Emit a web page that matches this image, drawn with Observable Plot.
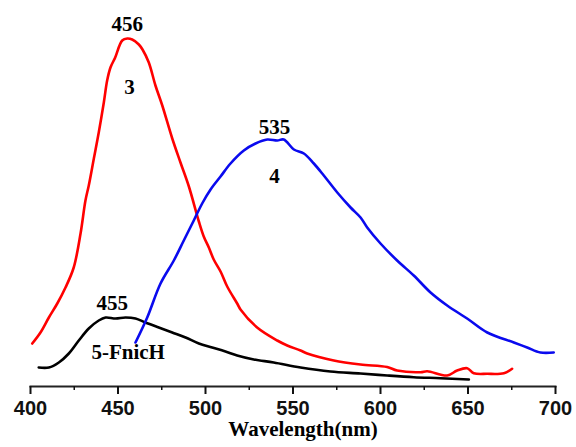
<!DOCTYPE html>
<html>
<head>
<meta charset="utf-8">
<script src="https://cdn.jsdelivr.net/npm/d3@7"></script>
<script src="https://cdn.jsdelivr.net/npm/@observablehq/plot@0.6"></script>
<style>
  html, body { margin: 0; padding: 0; background: #fff; }
</style>
</head>
<body>
<div id="chart"></div>
<script>
// Emission spectra (intensity in arbitrary units)
const redWl = [401, 405.7, 410.5, 415.3, 420, 424.7, 428.6, 431.4, 433.3, 436.2, 439, 441.9, 443.8, 445.7, 448.4, 452.4, 455.3, 458.1, 461.9, 464, 467.6, 471.4, 475.3, 481, 485.7, 490.5, 496.2, 499, 501.9, 504.7, 508.6, 512.4, 518.1, 520, 529.5, 541, 546.7, 554.3, 558.1, 573.3, 588.6, 603.8, 609.5, 622.9, 626.7, 638.1, 643.8, 649.5, 653.3, 661, 670.5, 675.2];
const redI  = [43, 54, 69, 83, 99, 119, 153, 186, 201, 228, 254, 284, 306, 319, 329, 346, 348, 347, 342, 337, 324, 301, 281, 248, 224, 200, 165, 150, 139, 127, 115, 100, 83, 77, 59, 46, 41, 36, 33, 26, 22, 19.5, 16, 14.3, 15.3, 11, 16, 18.3, 13.3, 12.7, 13.3, 17.7];

const blueWl = [460, 466.7, 474.3, 481.9, 487.6, 493.3, 498.1, 502.9, 508.6, 514.3, 521.9, 528.6, 535.3, 541, 544.7, 550.5, 556.2, 561.9, 567.6, 575.3, 582.9, 588.6, 592.4, 600, 609.5, 619, 628.6, 638.1, 649.5, 661, 676.2, 683.8, 691.4, 699];
const blueI  = [44, 69, 103, 126, 146, 166, 183, 197, 210, 223, 236, 243, 247, 246, 247, 237, 233, 223, 211, 194, 179, 169, 159, 143, 126, 111, 94, 81, 68, 54, 44, 39, 34, 34];

const blackWl = [404.7, 410.5, 416.2, 421.9, 427.6, 433.3, 439, 442.9, 448.6, 454.3, 460, 465.7, 473.3, 481, 488.6, 496.2, 503.8, 511.4, 518.1, 527.6, 539, 554.3, 571.4, 588.6, 603.8, 619, 634.3, 650.5];
const blackI  = [19, 19, 24, 33, 46, 58, 66, 69, 68, 69, 68, 64, 59, 54, 49, 43, 39, 35, 31, 27, 24, 19, 15, 13, 11, 9.3, 8.3, 7];

const labelText = ["456", "3", "535", "4", "455", "5-FnicH"];
const labelWl   = [455.3, 456.6, 539.4, 539.4, 446.7, 455.8];
const labelI    = [362, 299, 259, 210, 83, 34];

const majorTicks = [400, 450, 500, 550, 600, 650, 700];
const minorTicks = [425, 475, 525, 575, 625, 675];
const xTitle = "Wavelength(nm)";

const toRows = (wl, iv) => wl.map((w, i) => ({wl: w, I: iv[i]}));
const red = toRows(redWl, redI);
const blue = toRows(blueWl, blueI);
const black = toRows(blackWl, blackI);
const labels = labelText.map((t, i) => ({t, wl: labelWl[i], I: labelI[i]}));

const serif = "'Liberation Serif', 'Times New Roman', serif";
const sans = "'Liberation Sans', Arial, sans-serif";

const chart = Plot.plot({
  width: 576,
  height: 447,
  marginLeft: 30,
  marginRight: 21,
  marginTop: 38,
  marginBottom: 61,
  style: {fontFamily: sans, fontSize: "20px", fontWeight: "bold", color: "#111", background: "#fff"},
  x: {domain: [400, 700]},
  y: {domain: [0, 348], axis: null},
  marks: [
    Plot.frame({anchor: "bottom", stroke: "#222", strokeWidth: 2}),
    Plot.axisX(majorTicks, {tickSize: 8, tickPadding: 6, strokeWidth: 2, label: null, fontSize: 20, fontWeight: "bold", fontFamily: sans, tickFormat: d => String(d)}),
    Plot.axisX(minorTicks, {tickSize: 4, strokeWidth: 1.5, fill: "none", label: null}),
    Plot.line(black, {x: "wl", y: "I", stroke: "#000", strokeWidth: 2.6, curve: "catmull-rom"}),
    Plot.line(red, {x: "wl", y: "I", stroke: "#ff0000", strokeWidth: 2.6, curve: "catmull-rom"}),
    Plot.line(blue, {x: "wl", y: "I", stroke: "#0a0aee", strokeWidth: 2.6, curve: "catmull-rom"}),
    Plot.text(labels, {x: "wl", y: "I", text: "t", fontFamily: serif, fontSize: 21, fontWeight: "bold", fill: "#000"}),
    Plot.text([xTitle], {frameAnchor: "bottom", dy: 49, dx: 10, fontFamily: serif, fontSize: 21, fontWeight: "bold", fill: "#000"})
  ]
});
document.getElementById("chart").appendChild(chart);
</script>
</body>
</html>
